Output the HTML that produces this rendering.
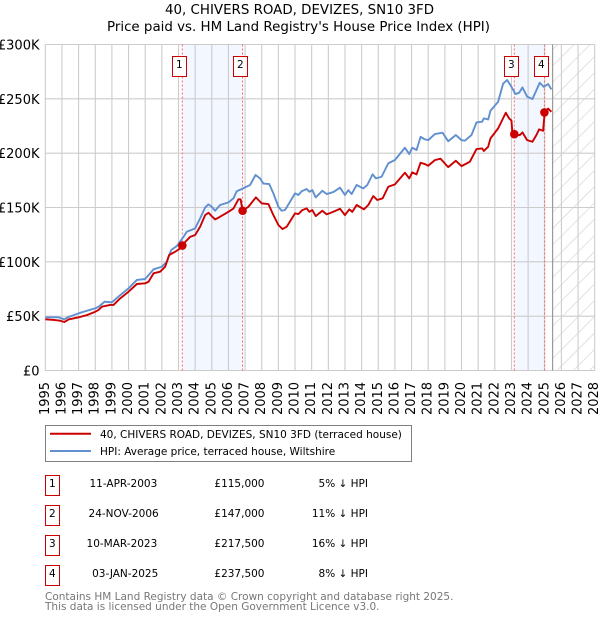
<!DOCTYPE html>
<html lang="en">
<head>
<meta charset="utf-8">
<title>40, Chivers Road, Devizes price chart</title>
<style>
html,body{margin:0;padding:0;background:#fff;}
body{width:600px;height:620px;overflow:hidden;}
svg{display:block;font-family:"DejaVu Sans","Liberation Sans",sans-serif;}
text{fill:#000;}
</style>
</head>
<body>
<svg id="chart" xmlns="http://www.w3.org/2000/svg" width="600" height="620" viewBox="0 0 600 620">
  <defs>
    <pattern id="hatch" patternUnits="userSpaceOnUse" width="11.5" height="11.5" patternTransform="rotate(45)">
      <line x1="0" y1="0" x2="0" y2="11.5" stroke="#cfcfcf" stroke-width="1.2"></line>
    </pattern>
  </defs>
  <rect x="0" y="0" width="600" height="620" fill="#fff"></rect>
  <text x="165" y="14" font-size="13" textLength="269" lengthAdjust="spacingAndGlyphs">40, CHIVERS ROAD, DEVIZES, SN10 3FD</text>
  <text x="107" y="31" font-size="13" textLength="383" lengthAdjust="spacingAndGlyphs">Price paid vs. HM Land Registry's House Price Index (HPI)</text>
  <g id="bands"></g>
  <g id="grid"></g>
  <g id="forecast"></g>
  <g id="sale-lines"></g>
  <g id="series"></g>
  <g id="markers"></g>
  <g id="sale-labels"></g>
  <g id="y-ticks"></g>
  <g id="x-ticks"></g>

  <g>
    <rect x="45.5" y="425.5" width="366" height="36" fill="#fff" stroke="#808080" stroke-width="1"></rect>
    <line x1="50" y1="433.7" x2="91" y2="433.7" stroke="#cc0000" stroke-width="2"></line>
    <text x="100" y="438" font-size="10.5">40, CHIVERS ROAD, DEVIZES, SN10 3FD (terraced house)</text>
    <line x1="50" y1="451" x2="91" y2="451" stroke="#6090d0" stroke-width="2"></line>
    <text x="100" y="455" font-size="10.5">HPI: Average price, terraced house, Wiltshire</text>
  </g>

  <g font-size="10.5">
    <g>
      <rect x="45.5" y="475.5" width="14" height="20" fill="#fff" stroke="#cc0000"></rect>
      <text x="52.3" y="487" text-anchor="middle">1</text>
      <text x="157.3" y="487" text-anchor="end">11-APR-2003</text>
      <text x="264.5" y="487" text-anchor="end">£115,000</text>
      <text x="368" y="487" text-anchor="end">5% ↓ HPI</text>
    </g>
    <g>
      <rect x="45.5" y="505.5" width="14" height="20" fill="#fff" stroke="#cc0000"></rect>
      <text x="52.3" y="517" text-anchor="middle">2</text>
      <text x="158.7" y="517" text-anchor="end">24-NOV-2006</text>
      <text x="264.5" y="517" text-anchor="end">£147,000</text>
      <text x="368" y="517" text-anchor="end">11% ↓ HPI</text>
    </g>
    <g>
      <rect x="45.5" y="535.5" width="14" height="20" fill="#fff" stroke="#cc0000"></rect>
      <text x="52.3" y="547" text-anchor="middle">3</text>
      <text x="157.3" y="547" text-anchor="end">10-MAR-2023</text>
      <text x="264.5" y="547" text-anchor="end">£217,500</text>
      <text x="368" y="547" text-anchor="end">16% ↓ HPI</text>
    </g>
    <g>
      <rect x="45.5" y="565.5" width="14" height="20" fill="#fff" stroke="#cc0000"></rect>
      <text x="52.3" y="577" text-anchor="middle">4</text>
      <text x="158.3" y="577" text-anchor="end">03-JAN-2025</text>
      <text x="264.5" y="577" text-anchor="end">£237,500</text>
      <text x="368" y="577" text-anchor="end">8% ↓ HPI</text>
    </g>
  </g>

  <text x="45" y="600" font-size="10.5" style="fill:#777">Contains HM Land Registry data © Crown copyright and database right 2025.</text>
  <text x="45" y="610" font-size="10.5" style="fill:#777">This data is licensed under the Open Government Licence v3.0.</text>
</svg>

<script>
const xTickLabels = [1995,1996,1997,1998,1999,2000,2001,2002,2003,2004,2005,2006,2007,2008,2009,2010,2011,2012,2013,2014,2015,2016,2017,2018,2019,2020,2021,2022,2023,2024,2025,2026,2027,2028];
const yTickValues = [0,50,100,150,200,250,300];
const yTickLabels = ['£0','£50K','£100K','£150K','£200K','£250K','£300K'];

const hpiDates = [1995,1995.4,1995.8,1996.14,1996.3,1996.6,1997,1997.5,1998,1998.2,1998.56,1999,1999.5,2000,2000.5,2001,2001.5,2002,2002.3,2002.56,2002.9,2003.3,2003.5,2004,2004.3,2004.6,2004.8,2005,2005.2,2005.5,2006,2006.3,2006.5,2006.8,2007.3,2007.63,2007.9,2008.1,2008.45,2008.7,2009,2009.2,2009.4,2009.7,2010,2010.2,2010.4,2010.7,2010.86,2011.04,2011.24,2011.64,2011.9,2012.3,2012.7,2013,2013.2,2013.4,2013.7,2014.1,2014.34,2014.66,2014.86,2015.2,2015.6,2016,2016.6,2016.86,2017.04,2017.3,2017.54,2017.8,2018,2018.4,2018.86,2019.2,2019.66,2020,2020.2,2020.6,2020.9,2021.24,2021.34,2021.6,2021.74,2022.2,2022.5,2022.74,2023,2023.24,2023.46,2023.66,2023.94,2024.26,2024.5,2024.7,2024.94,2025.2,2025.4];
const hpiValues = [48.9,48.9,48.9,47.1,48.6,50.4,52.6,55,57.2,58.7,63.3,62.7,69.4,75.6,83.3,84.2,93.1,95.5,100,110.9,114.5,123,127.7,130.8,140,150,152.9,150.7,147,152.3,154.7,158.4,165,167,170.7,179.9,176.8,172,171.6,163,150.7,147,147.7,155.3,163,161.5,165,167,164.5,166,159.3,165.4,162.4,164.2,168.2,161.5,166,162.4,170.7,167.6,170.7,180.5,176.8,178.3,190.6,193.7,205,199.2,205,202.9,215,212.7,212,217.6,218.8,211,216.7,212,211.5,216.7,228.3,229,232,231,239,247.3,264,267.3,261,254.4,255.6,260.5,252,249.8,258,264.8,261,263.6,258.7];

const priceDates = [1995,1995.5,1995.9,1996.14,1996.4,1997,1997.5,1998,1998.2,1998.4,1998.9,1999.1,1999.5,2000,2000.5,2001,2001.2,2001.5,2001.9,2002.2,2002.44,2002.8,2003.1,2003.23,2003.7,2004,2004.3,2004.6,2004.8,2005,2005.2,2005.5,2006,2006.3,2006.6,2006.73,2006.85,2007.2,2007.65,2008,2008.4,2008.7,2009,2009.25,2009.5,2010,2010.2,2010.44,2010.7,2010.86,2011.04,2011.24,2011.64,2011.9,2012.3,2012.7,2013,2013.26,2013.44,2013.7,2014.14,2014.4,2014.7,2014.94,2015.26,2015.6,2016,2016.6,2016.86,2017.04,2017.3,2017.54,2017.8,2018,2018.4,2018.74,2019.2,2019.66,2020,2020.5,2020.9,2021.24,2021.34,2021.6,2021.74,2022.2,2022.66,2022.86,2023,2023.06,2023.2,2023.5,2023.66,2023.94,2024.26,2024.5,2024.66,2024.9,2025,2025.2,2025.4];
const priceValues = [47.1,46.5,45.8,44.6,47,48.9,51,54.1,55.7,58.7,60.3,60.3,66.4,72.5,79.6,80.2,81.7,89.4,90.9,95.5,106.3,109.3,112.4,115.5,123,124.7,132.3,143,145.2,142,139,141.5,146,149,157.5,157.5,147,150.7,159.3,153.8,153.2,143,133.9,130.2,132.3,144.6,144,147.6,149.2,146,147.6,142.1,147,143.7,146.1,148.9,143,148.3,146,152.3,148.3,152.3,160.5,156.9,158.4,169.1,171.3,182,176.8,182.3,180.5,191.2,190,188.4,193.6,194.9,187.2,193,188.1,192.1,203.8,204.4,202,205.9,213.6,222.8,237.2,232,230,217.6,216.6,216.6,219.1,212,210.5,216.7,221.9,220.6,238,241,238.1];

const saleDates = [2003.23,2006.85,2023.17,2024.98];
const saleValues = [115,147,217.5,237.5];
const saleNumbers = ['1','2','3','4'];
const forecastStart = [2025.47];

const SVG_NS = 'http://www.w3.org/2000/svg';
const xMin = 1995, xMax = 2028, yMin = 0, yMax = 300;
const plotLeft = 45.3, plotRight = 594.7, plotTop = 44.5, plotBottom = 370.5;
function xScale(year) { return plotLeft + (year - xMin) / (xMax - xMin) * (plotRight - plotLeft); }
function yScale(value) { return plotBottom - (value - yMin) / (yMax - yMin) * (plotBottom - plotTop); }
function make(tag, parentId, attrs, text) {
  const el = document.createElementNS(SVG_NS, tag);
  Object.keys(attrs).forEach(function (k) { el.setAttribute(k, attrs[k]); });
  if (text !== undefined) el.textContent = text;
  document.getElementById(parentId).appendChild(el);
  return el;
}
function pathFrom(dates, values) {
  return dates.map(function (d, i) { return (i ? 'L' : 'M') + xScale(d).toFixed(2) + ' ' + yScale(values[i]).toFixed(2); }).join('');
}

for (let i = 0; i + 1 < saleDates.length; i += 2) {
  const band = make('rect', 'bands', { x: xScale(saleDates[i]), y: plotTop, width: xScale(saleDates[i + 1]) - xScale(saleDates[i]), height: plotBottom - plotTop, fill: '#f3f7ff' });
  
  
}

xTickLabels.forEach(function (label) {
  const line = make('line', 'grid', { x1: xScale(label), x2: xScale(label), y1: plotTop, y2: plotBottom, stroke: '#cccccc', 'stroke-width': 1.1 });
  
  
  const x = xScale(label);
  const tick = make('text', 'x-ticks', { x: x, y: 415, 'font-size': 13, transform: 'rotate(-90 ' + x + ' 415)', 'dominant-baseline': 'central' }, String(label));
  
  
});

yTickValues.forEach(function (value, i) {
  const line = make('line', 'grid', { x1: plotLeft, x2: plotRight, y1: yScale(value), y2: yScale(value), stroke: '#cccccc', 'stroke-width': 1.1 });
  
  
  const tick = make('text', 'y-ticks', { x: 39.5, y: yScale(value) + 5, 'font-size': 13, 'text-anchor': 'end' }, yTickLabels[i]);
  
  
});

const hatchRect = make('rect', 'forecast', { x: xScale(forecastStart[0]), y: plotTop, width: plotRight - xScale(forecastStart[0]), height: plotBottom - plotTop, fill: 'url(#hatch)' });


const forecastLine = make('line', 'forecast', { x1: xScale(forecastStart[0]), x2: xScale(forecastStart[0]), y1: plotTop, y2: plotBottom, stroke: '#999999', 'stroke-width': 1.2 });



saleDates.forEach(function (d) {
  const line = make('line', 'sale-lines', { x1: xScale(d), x2: xScale(d), y1: plotTop, y2: plotBottom, stroke: '#ff6666', 'stroke-width': 1, 'stroke-dasharray': '2 2' });
  
  
});

const hpiLine = make('path', 'series', { d: pathFrom(hpiDates, hpiValues), fill: 'none', stroke: '#6090d0', 'stroke-width': 1.9, 'stroke-linejoin': 'round' });


const priceLine = make('path', 'series', { d: pathFrom(priceDates, priceValues), fill: 'none', stroke: '#cc0000', 'stroke-width': 1.9, 'stroke-linejoin': 'round' });



saleDates.forEach(function (d, i) {
  const dot = make('circle', 'markers', { cx: xScale(d), cy: yScale(saleValues[i]), r: 4.3, fill: '#cc0000' });
  
  
  const box = make('rect', 'sale-labels', { x: Math.round(xScale(d) - 10) + 0.5, y: 56.5, width: 14, height: 20, fill: '#fff', stroke: '#cc0000', 'stroke-width': 1 });
  
  
  const num = make('text', 'sale-labels', { x: Math.round(xScale(d) - 10) + 7.3, y: 68, 'font-size': 10.5, 'text-anchor': 'middle' }, saleNumbers[i]);
  
  
});
</script>
</body>
</html>
